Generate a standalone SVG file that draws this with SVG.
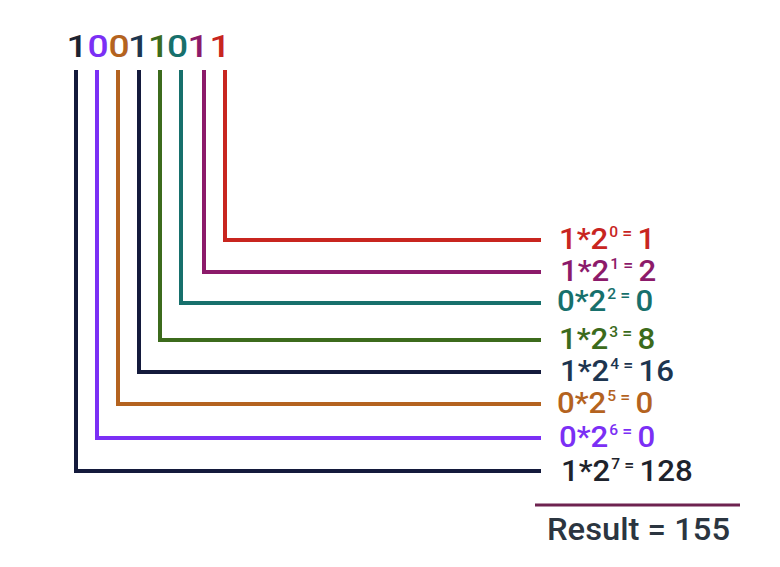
<svg xmlns="http://www.w3.org/2000/svg" width="780" height="567" viewBox="0 0 780 567">
<style>
text{font-family:Roboto,"Liberation Sans",sans-serif;font-weight:500}
.d{font-size:31px;text-anchor:middle}
.l{font-size:30px}
.s{font-size:15px}
.e{font-size:17px}
.w{fill:none;stroke-width:4;stroke-linecap:square;stroke-linejoin:miter}
</style>
<rect width="780" height="567" fill="#fff"/>
<g id="binary">
<text class="d" transform="translate(77,57) scale(1.2,1)" fill="#1c2230">1</text>
<text class="d" transform="translate(98,57) scale(1.2,1)" fill="#7b2ff5">0</text>
<text class="d" transform="translate(119,57) scale(1.2,1)" fill="#b4631f">0</text>
<text class="d" transform="translate(138.5,57) scale(1.2,1)" fill="#1d3550">1</text>
<text class="d" transform="translate(158.5,57) scale(1.2,1)" fill="#3c6b1c">1</text>
<text class="d" transform="translate(177.5,57) scale(1.2,1)" fill="#17706c">0</text>
<text class="d" transform="translate(198,57) scale(1.2,1)" fill="#8c1a6a">1</text>
<text class="d" transform="translate(220,57) scale(1.2,1)" fill="#c8251f">1</text>
</g>
<g id="connectors">
<path class="w" d="M225,72V240H539" stroke="#c8251f"/>
<path class="w" d="M204,72V272H539" stroke="#8c1a6a"/>
<path class="w" d="M181,72V303H539" stroke="#17706c"/>
<path class="w" d="M160,72V340H539" stroke="#3c6b1c"/>
<path class="w" d="M139,72V372H539" stroke="#141a3c"/>
<path class="w" d="M118,72V404H539" stroke="#b4631f"/>
<path class="w" d="M97,72V438H539" stroke="#7b2ff5"/>
<path class="w" d="M76,72V471H539" stroke="#141a3c"/>
</g>
<g id="t0"><text class="l" x="559" y="249" fill="#c8251f" transform="translate(559,0) scale(1.04,1) translate(-559,0)">1*2<tspan class="s" dx="1" dy="-12">0</tspan><tspan class="e" dx="4" dy="2">=</tspan><tspan dx="5" dy="10">1</tspan></text></g>
<g id="t1"><text class="l" x="560" y="281" fill="#8c1a6a" transform="translate(560,0) scale(1.04,1) translate(-560,0)">1*2<tspan class="s" dx="1" dy="-12">1</tspan><tspan class="e" dx="4" dy="2">=</tspan><tspan dx="5" dy="10">2</tspan></text></g>
<g id="t2"><text class="l" x="557" y="311" fill="#17706c" transform="translate(557,0) scale(1.04,1) translate(-557,0)">0*2<tspan class="s" dx="1" dy="-12">2</tspan><tspan class="e" dx="4" dy="2">=</tspan><tspan dx="5" dy="10">0</tspan></text></g>
<g id="t3"><text class="l" x="559" y="349" fill="#3c6b1c" transform="translate(559,0) scale(1.04,1) translate(-559,0)">1*2<tspan class="s" dx="1" dy="-12">3</tspan><tspan class="e" dx="4" dy="2">=</tspan><tspan dx="5" dy="10">8</tspan></text></g>
<g id="t4"><text class="l" x="560" y="381" fill="#1d3550" transform="translate(560,0) scale(1.04,1) translate(-560,0)">1*2<tspan class="s" dx="1" dy="-12">4</tspan><tspan class="e" dx="4" dy="2">=</tspan><tspan dx="5" dy="10">16</tspan></text></g>
<g id="t5"><text class="l" x="557" y="413" fill="#b4631f" transform="translate(557,0) scale(1.04,1) translate(-557,0)">0*2<tspan class="s" dx="1" dy="-12">5</tspan><tspan class="e" dx="4" dy="2">=</tspan><tspan dx="5" dy="10">0</tspan></text></g>
<g id="t6"><text class="l" x="559" y="447" fill="#7b2ff5" transform="translate(559,0) scale(1.04,1) translate(-559,0)">0*2<tspan class="s" dx="1" dy="-12">6</tspan><tspan class="e" dx="4" dy="2">=</tspan><tspan dx="5" dy="10">0</tspan></text></g>
<g id="t7"><text class="l" x="561" y="481" fill="#1e232c" transform="translate(561,0) scale(1.04,1) translate(-561,0)">1*2<tspan class="s" dx="1" dy="-12">7</tspan><tspan class="e" dx="4" dy="2">=</tspan><tspan dx="5" dy="10">128</tspan></text></g>
<g id="result">
<line x1="535" y1="505" x2="740" y2="505" stroke="#6e2350" stroke-width="3"/>
<text x="547" y="540" font-size="31" fill="#2b3540" textLength="183" lengthAdjust="spacingAndGlyphs">Result = 155</text>
</g>
</svg>
